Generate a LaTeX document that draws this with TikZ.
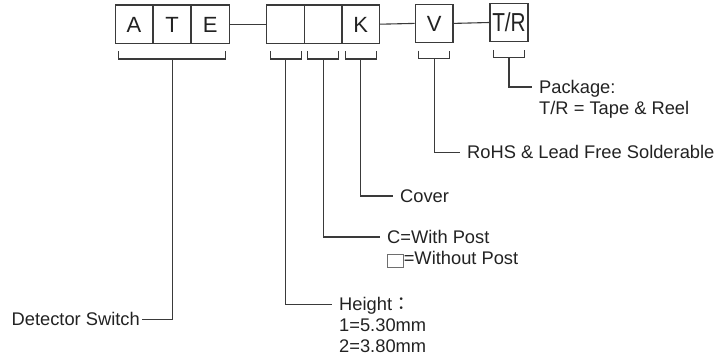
\documentclass[tikz,border=0pt]{standalone}
\usepackage{fontspec}
\usepackage{graphicx}
\setmainfont{Liberation Sans}
\newfontfamily\cjkfont{Noto Sans CJK TC}
\definecolor{inkline}{HTML}{3A3A3A}
\definecolor{inktext}{HTML}{222222}
\definecolor{glyphgray}{HTML}{6E6E6E}
\newcommand{\emptysq}{\raisebox{-2.5pt}{\textcolor{glyphgray}{\setlength\fboxrule{0.8pt}\setlength\fboxsep{0pt}\fbox{\rule{0pt}{12.5pt}\hspace{15pt}}}}}
\tikzset{
  cell/.style={draw=inkline, line width=1.3pt, minimum width=37.8pt, minimum height=38.3pt,
    inner sep=0pt, text=inktext, font=\fontsize{22}{24}\selectfont, text height=15.75pt, text depth=0pt},
  ln/.style={draw=inkline, line width=1.1pt},
  lbl/.style={anchor=west, inner xsep=7pt, inner ysep=0pt, text=inktext,
    font=\fontsize{18.3}{20}\selectfont, text height=13pt, text depth=0pt},
}
\newcommand{\bracketunder}[2]{% first cell, last cell
  \draw[ln] ([xshift=4pt,yshift=-7.5pt]#1.south west) -- ([xshift=4pt,yshift=-15pt]#1.south west)
    -- ([xshift=-4pt,yshift=-15pt]#2.south east) -- ([xshift=-4pt,yshift=-7.5pt]#2.south east);
}
\begin{document}
\begin{tikzpicture}[x=1pt,y=-1pt]
\useasboundingbox (0,0) rectangle (721,358);
% boxes
\node[cell] (A) at (134.05,24.2) {A};
\node[cell] (T) at (172.15,24.2) {T};
\node[cell] (E) at (210.25,24.2) {E};
\node[cell] (c1) at (285.7,24.2) {};
\node[cell] (c2) at (323.2,24.2) {};
\node[cell] (K) at (360.6,24.2) {K};
\node[cell] (V) at (434.2,23.4) {V};
\node[cell, text height=18.6pt, font=\fontsize{26}{28}\selectfont] (TR) at (509,22.5) {\scalebox{0.8}[1]{T/R}};
% links between boxes
\draw[ln] (E.east) -- (c1.west);
\draw[ln] (K.east) -- (V.west);
\draw[ln] (V.east) -- (TR.west);
% brackets
\bracketunder{A}{E}
\bracketunder{c1}{c1}
\bracketunder{c2}{c2}
\bracketunder{K}{K}
\bracketunder{V}{V}
\bracketunder{TR}{TR}
\coordinate (sATE) at ([yshift=-15pt]T.south);
\coordinate (sc1) at ([yshift=-15pt]c1.south);
\coordinate (sc2) at ([yshift=-15pt]c2.south);
\coordinate (sK) at ([yshift=-15pt]K.south);
\coordinate (sV) at ([yshift=-15pt]V.south);
\coordinate (sTR) at ([yshift=-15pt]TR.south);
% labels
\node[lbl, anchor=east, inner xsep=2pt] (det) at (142,319.5) {Detector Switch};
\node[lbl] (hgt) at (332,304.5) {Height{\cjkfont ：}};
\node[lbl] (h1) at (332,325.5) {1=5.30mm};
\node[lbl] (h2) at (332,346) {2=3.80mm};
\node[lbl] (cp) at (380,237) {C=With Post};
\node[lbl] (wp) at (380,258) {\emptysq=Without Post};
\node[lbl] (cov) at (393,196) {Cover};
\node[lbl] (rohs) at (460,152.5) {RoHS \& Lead Free Solderable};
\node[lbl] (pkg) at (532,87) {Package:};
\node[lbl] (pkg2) at (532,108) {T/R = Tape \& Reel};
% connectors
\draw[ln] (sATE) |- (det.east);
\draw[ln] (sc1) |- (hgt.west);
\draw[ln] (sc2) |- (cp.west);
\draw[ln] (sK) |- (cov.west);
\draw[ln] (sV) |- (rohs.west);
\draw[ln] (sTR) |- (pkg.west);
\end{tikzpicture}
\end{document}
